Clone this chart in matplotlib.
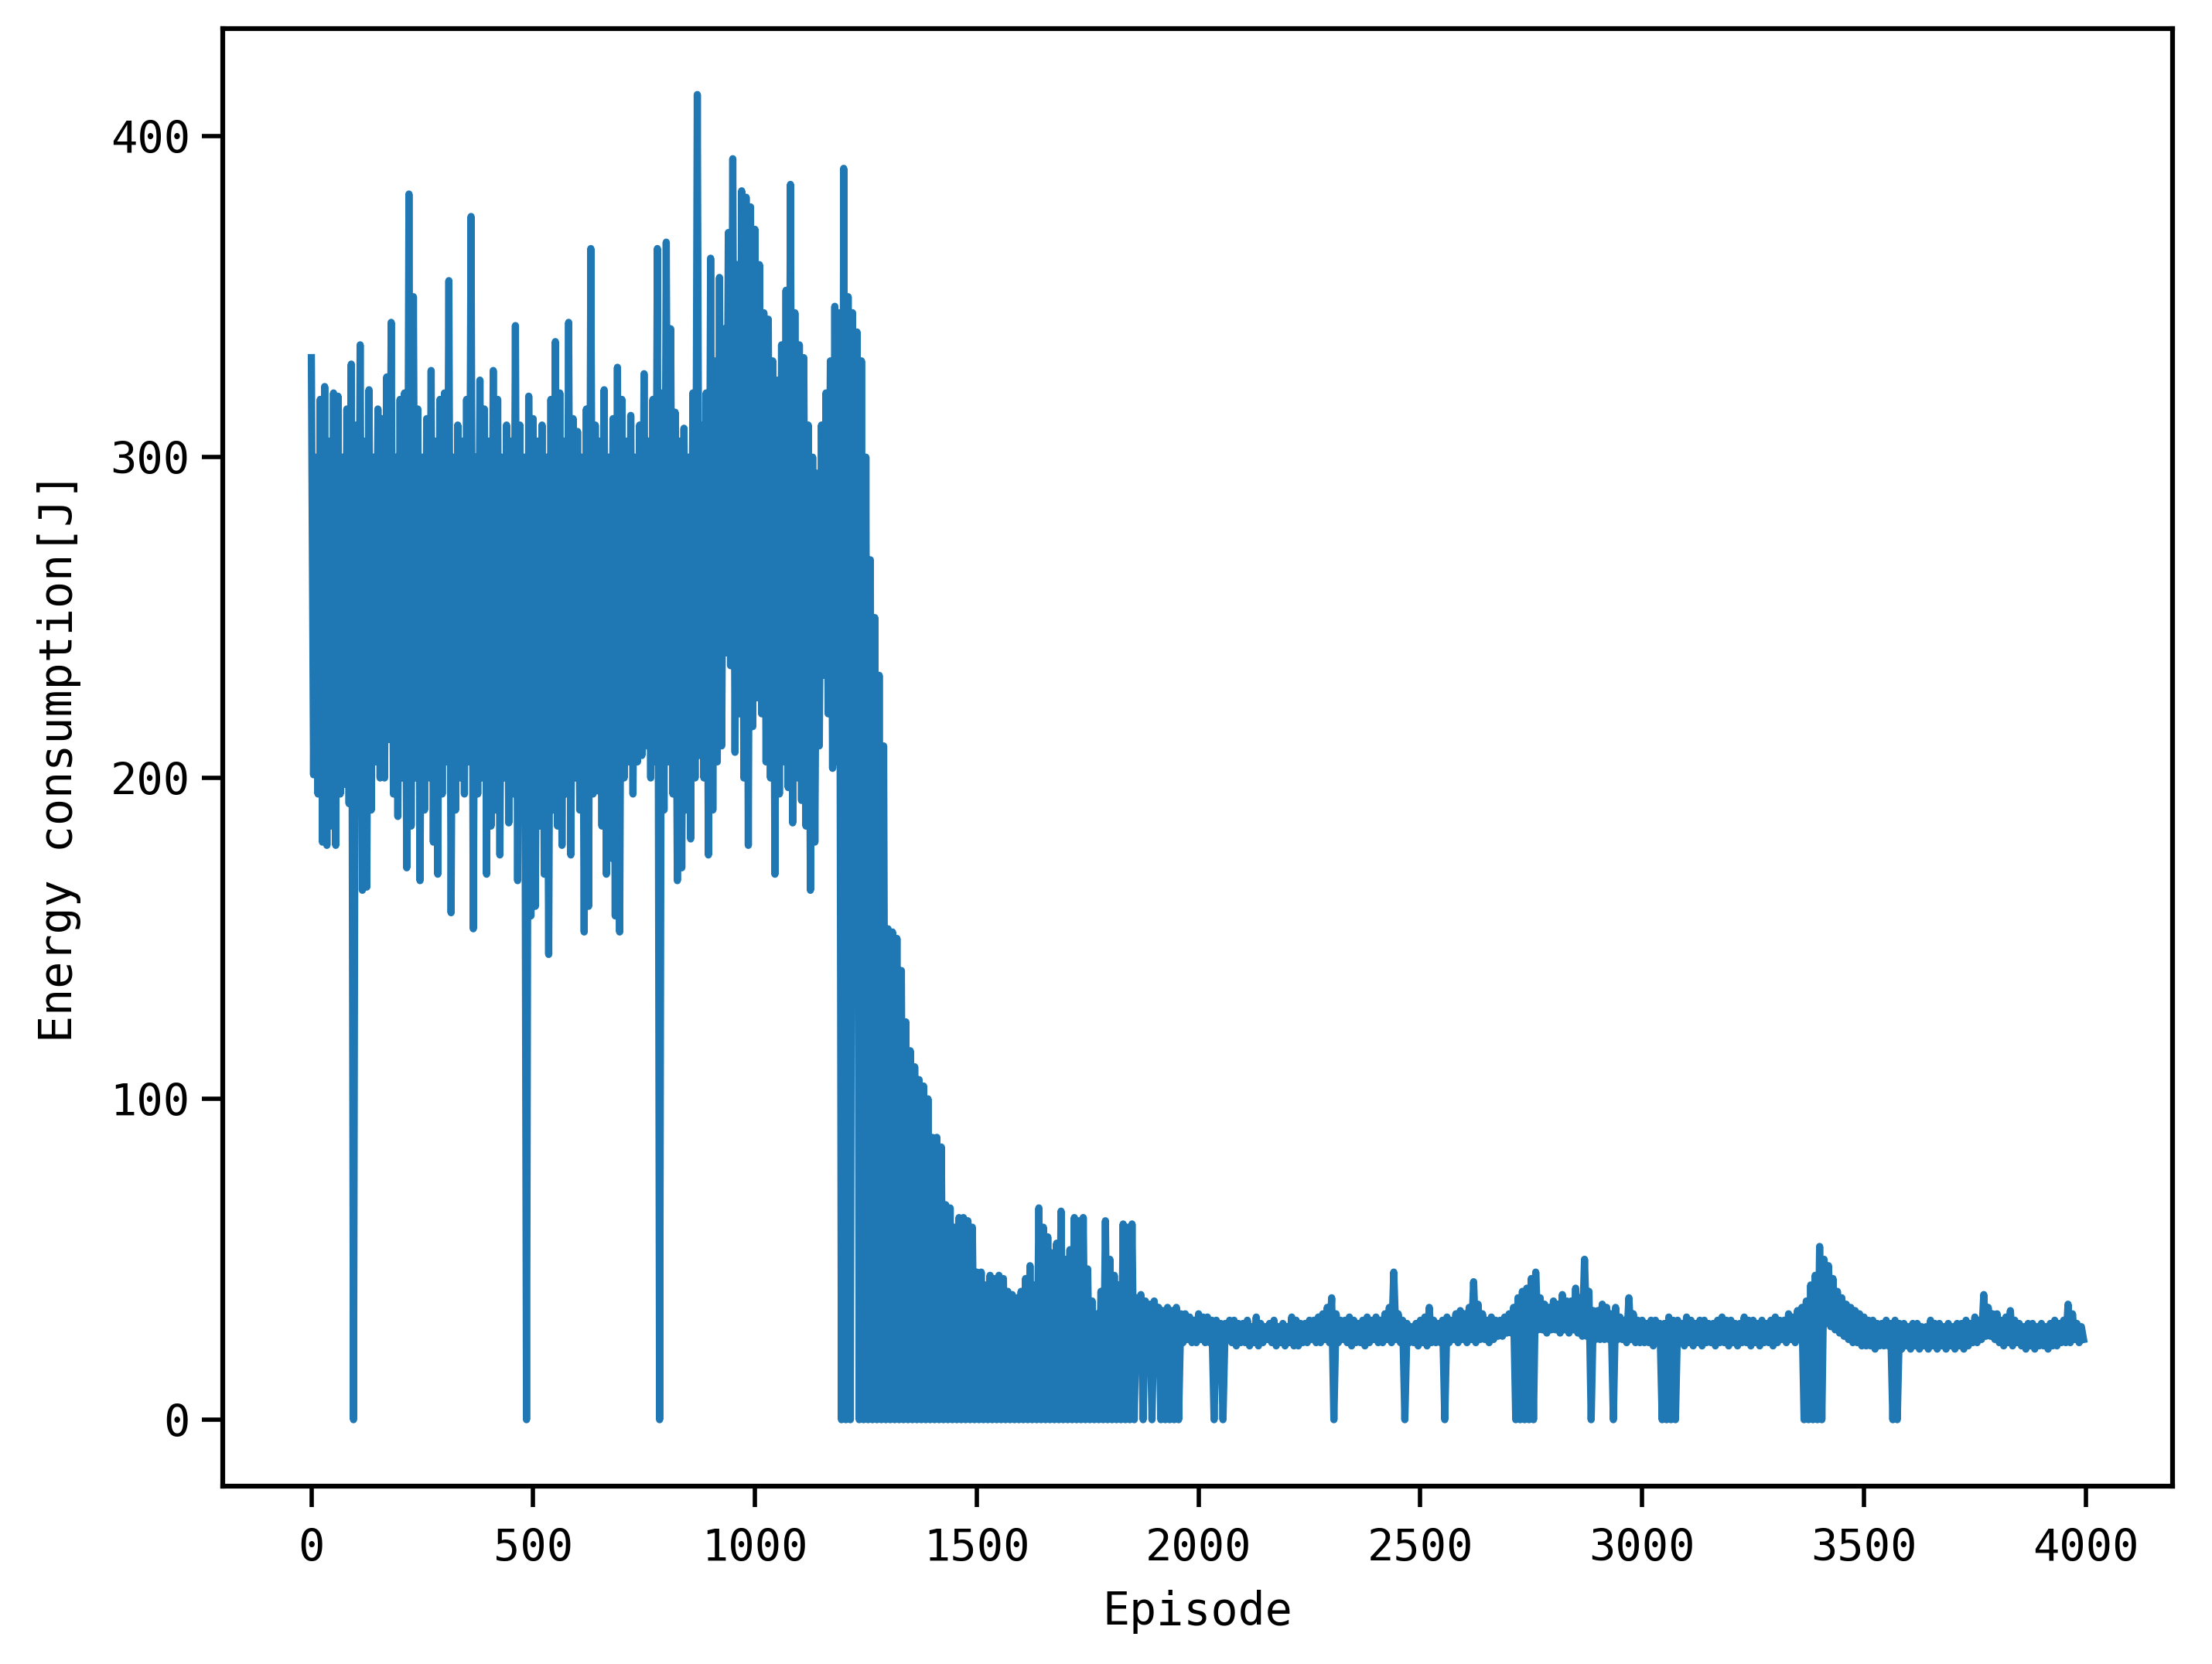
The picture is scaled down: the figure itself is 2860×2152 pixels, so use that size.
"""Energy consumption per episode during training."""

import numpy as np
from matplotlib import pyplot as plt

# values.
# each part: "top" = upper edge of the noisy band sampled every `step`
# episodes, "bottom" = lower edge sampled half a step later (0 = episode
# where the energy dropped to zero)

# episodes 0..1255, step 10
early_top = [
    331, 300, 318, 322, 305, 320, 319, 300, 315, 329,
    310, 335, 305, 321, 300, 315, 312, 325, 342, 300,
    318, 320, 382, 350, 315, 300, 312, 327, 305, 318,
    320, 355, 300, 310, 305, 318, 375, 300, 324, 315,
    305, 327, 318, 300, 310, 305, 341, 310, 300, 319,
    312, 305, 310, 300, 318, 336, 320, 305, 342, 312,
    308, 300, 315, 365, 310, 305, 321, 300, 312, 328,
    318, 305, 313, 300, 310, 326, 305, 318, 365, 320,
    367, 340, 314, 305, 309, 300, 320, 413, 310, 320,
    362, 330, 356, 340, 370, 393, 360, 383, 381, 378,
    371, 360, 345, 343, 330, 324, 335, 352, 385, 345,
    335, 331, 310, 300, 295, 310, 320, 330, 347, 345,
    390, 350, 345, 339, 330, 300,
]
early_bottom = [
    201, 195, 180, 179, 185, 179, 195, 198, 192, 0,
    190, 165, 166, 190, 205, 200, 200, 212, 195, 188,
    200, 172, 185, 200, 168, 190, 200, 180, 170, 195,
    205, 158, 190, 200, 195, 205, 153, 195, 200, 170,
    185, 190, 176, 200, 186, 195, 168, 200, 0, 157,
    160, 185, 170, 145, 190, 185, 179, 195, 176, 200,
    190, 152, 160, 195, 196, 185, 170, 175, 157, 152,
    200, 205, 195, 205, 207, 210, 200, 205, 0, 190,
    205, 195, 168, 172, 190, 181, 200, 207, 200, 176,
    190, 205, 210, 239, 235, 208, 220, 200, 179, 216,
    225, 220, 205, 200, 170, 195, 205, 197, 186, 200,
    193, 185, 165, 180, 210, 232, 220, 203, 205, 0,
    0, 0, 165, 0, 0, 0,
]

# episodes 1260..1995, step 10
tail_top = [
    268, 250, 232, 210, 153, 152, 150, 140, 124, 115,
    110, 106, 104, 100, 88, 88, 85, 67, 66, 60,
    63, 63, 62, 60, 46, 46, 42, 45, 44, 45,
    44, 40, 39, 38, 40, 44, 48, 42, 66, 60,
    57, 52, 55, 65, 50, 53, 63, 62, 63, 47,
    37, 33, 40, 62, 50, 45, 42, 61, 60, 61,
    38, 39, 37, 36, 37, 35, 34, 35, 34, 35,
    33, 33, 32, 31,
]
# every sampled trough from 1265 to 1855 is a zero
tail_bottom = [0] * 60 + [24, 0, 25, 0, 25, 0, 0, 0, 0, 0, 24, 25, 24, 24]

# episodes 2000..3995, step 10
late_top = [
    33, 32, 32, 31, 31, 30, 30, 31, 31, 30,
    30, 31, 29, 32, 30, 29, 30, 31, 29, 30,
    29, 32, 31, 30, 30, 31, 31, 32, 33, 35,
    38, 33, 31, 31, 32, 31, 30, 31, 32, 31,
    32, 31, 33, 35, 46, 33, 31, 30, 29, 30,
    31, 32, 35, 31, 30, 31, 32, 31, 33, 34,
    33, 35, 43, 36, 33, 31, 32, 31, 31, 32,
    33, 35, 38, 40, 41, 44, 46, 38, 36, 35,
    37, 36, 39, 37, 37, 41, 38, 50, 40, 34,
    34, 36, 35, 33, 35, 32, 31, 38, 33, 31,
    31, 30, 31, 31, 30, 30, 32, 31, 31, 30,
    32, 31, 30, 31, 31, 30, 30, 31, 32, 31,
    31, 30, 30, 32, 31, 31, 30, 31, 30, 31,
    32, 31, 31, 33, 32, 34, 35, 37, 42, 45,
    54, 50, 48, 44, 40, 38, 36, 35, 34, 33,
    32, 31, 31, 30, 30, 31, 30, 31, 30, 30,
    29, 30, 30, 29, 29, 31, 30, 30, 29, 30,
    29, 30, 30, 31, 30, 32, 31, 39, 35, 33,
    33, 31, 32, 34, 31, 30, 29, 30, 30, 29,
    30, 29, 30, 31, 30, 31, 36, 33, 30, 29,
]
late_bottom = [
    25, 24, 24, 0, 24, 0, 25, 24, 23, 24,
    24, 23, 24, 23, 24, 25, 24, 23, 24, 23,
    24, 23, 23, 24, 24, 25, 24, 24, 25, 24,
    0, 24, 25, 24, 23, 24, 24, 23, 24, 25,
    24, 24, 25, 24, 25, 24, 0, 24, 24, 23,
    24, 23, 24, 24, 24, 0, 24, 25, 24, 25,
    24, 25, 24, 25, 25, 24, 25, 26, 26, 27,
    27, 0, 0, 0, 0, 0, 28, 28, 27, 28,
    28, 27, 28, 27, 28, 27, 26, 26, 0, 25,
    25, 25, 25, 0, 25, 25, 24, 25, 24, 24,
    24, 24, 23, 24, 0, 0, 0, 0, 24, 23,
    24, 23, 24, 23, 24, 24, 23, 24, 24, 23,
    24, 23, 24, 24, 23, 24, 23, 24, 24, 23,
    24, 25, 24, 25, 24, 25, 0, 0, 0, 0,
    0, 30, 29, 28, 27, 26, 25, 24, 24, 23,
    23, 23, 22, 23, 23, 23, 0, 0, 22, 23,
    22, 23, 22, 23, 22, 23, 22, 23, 22, 23,
    22, 23, 22, 23, 24, 24, 25, 26, 26, 25,
    24, 23, 24, 23, 24, 23, 22, 23, 22, 23,
    23, 22, 23, 23, 24, 24, 24, 25, 24, 25,
]

x_ticks = [0, 500, 1000, 1500, 2000, 2500, 3000, 3500, 4000]
y_ticks = [0, 100, 200, 300, 400]


def interleave(top, bottom, start, step):
    """put top and bottom samples back in episode order"""
    ep_top = start + step * np.arange(len(top))
    ep = np.column_stack([ep_top, ep_top + step / 2]).ravel()
    val = np.column_stack([top, bottom]).ravel()
    return ep, val


def main():
    parts = [
        interleave(early_top, early_bottom, 0, 10),
        interleave(tail_top, tail_bottom, 1260, 10),
        interleave(late_top, late_bottom, 2000, 10),
    ]
    episode = np.concatenate([p[0] for p in parts])
    energy = np.concatenate([p[1] for p in parts])

    plt.rcParams['font.family'] = ['DejaVu Sans Mono']
    fig = plt.figure(figsize=(2860 / 447, 2152 / 447), dpi=447)
    fig.subplots_adjust(left=0.1007, right=0.982, bottom=0.107, top=0.983)
    ax = fig.add_subplot(111)
    ax.plot(episode, energy, color='#1f77b4', linewidth=1.5)

    ax.set_xticks(x_ticks)
    ax.set_yticks(y_ticks)
    ax.tick_params(labelsize=9.2, length=4.3, width=0.9)
    ax.tick_params(axis='x', pad=4.5)
    ax.tick_params(axis='y', pad=2.5)
    for sp in ax.spines.values():
        sp.set_linewidth(1.0)
    ax.set_xlabel('Episode', fontsize=9.4, labelpad=4)
    ax.set_ylabel('Energy consumption[J]', fontsize=9.4, labelpad=6)

    fig.savefig('out.png', dpi=447)


if __name__ == "__main__":
    main()
